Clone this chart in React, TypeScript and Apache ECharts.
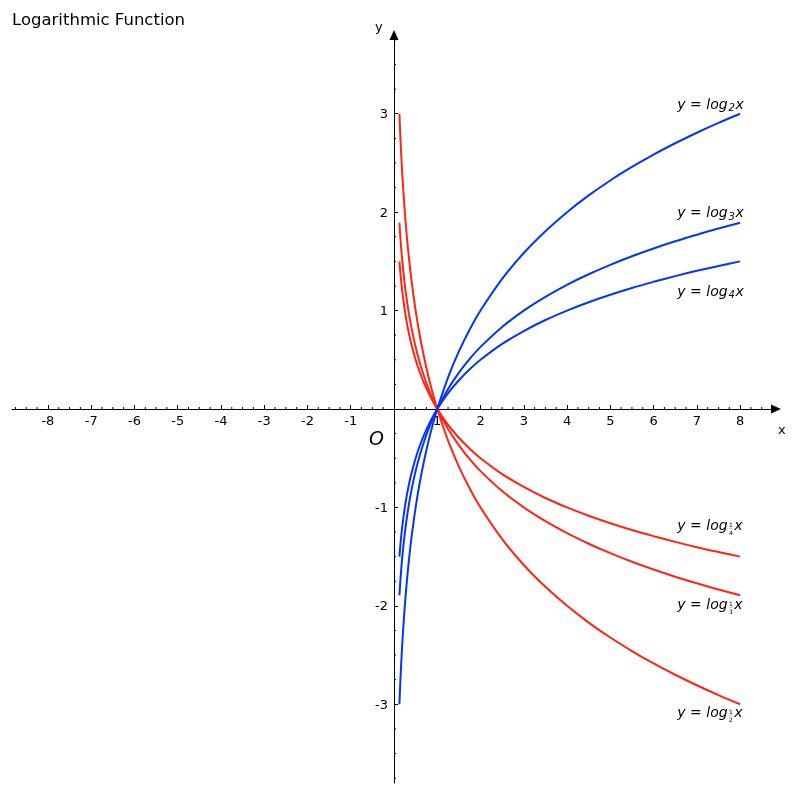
import React, { useEffect, useRef } from "react";
import * as echarts from "echarts";

// sample x positions of the curves
const xs = [0.125, 0.15, 0.175, 0.2, 0.25, 0.3, 0.35, 0.4, 0.5, 0.6, 0.7, 0.8, 0.9, 1, 1.25, 1.5, 1.75, 2, 2.5, 3, 3.5, 4, 4.5, 5, 5.5, 6, 6.5, 7, 7.5, 8];

const log2 = [-3, -2.737, -2.515, -2.322, -2, -1.737, -1.515, -1.322, -1, -0.737, -0.515, -0.322, -0.152, 0, 0.322, 0.585, 0.807, 1, 1.322, 1.585, 1.807, 2, 2.17, 2.322, 2.459, 2.585, 2.7, 2.807, 2.907, 3];
const log3 = [-1.893, -1.727, -1.587, -1.465, -1.262, -1.096, -0.956, -0.834, -0.631, -0.465, -0.325, -0.203, -0.096, 0, 0.203, 0.369, 0.509, 0.631, 0.834, 1, 1.14, 1.262, 1.369, 1.465, 1.552, 1.631, 1.704, 1.771, 1.834, 1.893];
const log4 = [-1.5, -1.369, -1.257, -1.161, -1, -0.868, -0.757, -0.661, -0.5, -0.368, -0.257, -0.161, -0.076, 0, 0.161, 0.292, 0.404, 0.5, 0.661, 0.792, 0.904, 1, 1.085, 1.161, 1.23, 1.292, 1.35, 1.404, 1.453, 1.5];
const logHalf = [3, 2.737, 2.515, 2.322, 2, 1.737, 1.515, 1.322, 1, 0.737, 0.515, 0.322, 0.152, 0, -0.322, -0.585, -0.807, -1, -1.322, -1.585, -1.807, -2, -2.17, -2.322, -2.459, -2.585, -2.7, -2.807, -2.907, -3];
const logThird = [1.893, 1.727, 1.587, 1.465, 1.262, 1.096, 0.956, 0.834, 0.631, 0.465, 0.325, 0.203, 0.096, 0, -0.203, -0.369, -0.509, -0.631, -0.834, -1, -1.14, -1.262, -1.369, -1.465, -1.552, -1.631, -1.704, -1.771, -1.834, -1.893];
const logQuarter = [1.5, 1.369, 1.257, 1.161, 1, 0.868, 0.757, 0.661, 0.5, 0.368, 0.257, 0.161, 0.076, 0, -0.161, -0.292, -0.404, -0.5, -0.661, -0.792, -0.904, -1, -1.085, -1.161, -1.23, -1.292, -1.35, -1.404, -1.453, -1.5];

const blueCurves = [log2, log3, log4];
const redCurves = [logHalf, logThird, logQuarter];

// curve labels: anchor (data coords) and base
const labelX = [6.55, 6.55, 6.55, 6.55, 6.55, 6.55];
const labelY = [3.1, 2.0, 1.2, -1.18, -1.98, -3.08];
const labelBase: (string | [string, string])[] = ["2", "3", "4", ["1", "4"], ["1", "3"], ["1", "2"]];

// axis ticks
const xTickLabels = [-8, -7, -6, -5, -4, -3, -2, -1, 1, 2, 3, 4, 5, 6, 7, 8];
const yTickLabels = [-3, -2, -1, 1, 2, 3];
const xRange = [-8.83, 8.83];
const yRange = [-3.8, 3.8];

const BLUE = "#0536f2";
const RED = "#ff2414";
const FONT = "DejaVu Sans";

let measureCtx: CanvasRenderingContext2D | null = null;
function textWidth(t: string, size: number, italic: boolean) {
  if (!measureCtx) measureCtx = document.createElement("canvas").getContext("2d");
  if (!measureCtx) return t.length * size * 0.55;
  measureCtx.font = `${italic ? "italic " : ""}${size}px '${FONT}'`;
  return measureCtx.measureText(t).width;
}

export default function App() {
  const ref = useRef<HTMLDivElement>(null);
  useEffect(() => {
    if (!ref.current) return;
    const chart = echarts.init(ref.current, undefined, { renderer: "svg" });

    const minorX: number[][] = [];
    for (let i = -35; i <= 35; i++) if (i % 4 !== 0) minorX.push([i / 4, 0]);
    const minorY: number[][] = [];
    for (let i = -15; i <= 15; i++) if (i % 4 !== 0) minorY.push([0, i / 4]);

    const curveSeries = [
      ...redCurves.map((c, k) => ({
        type: "line",
        name: "red" + k,
        data: xs.map((x, i) => [x, c[i]]),
        showSymbol: false,
        smooth: 0.3,
        lineStyle: { color: RED, width: 2 },
        itemStyle: { color: RED },
        z: 3,
      })),
      ...blueCurves.map((c, k) => ({
        type: "line",
        name: "blue" + k,
        data: xs.map((x, i) => [x, c[i]]),
        showSymbol: false,
        smooth: 0.3,
        lineStyle: { color: BLUE, width: 2 },
        itemStyle: { color: BLUE },
        z: 3,
      })),
    ];

    const tickLabelData = [
      ...xTickLabels.map((v) => [v, 0, 0]),
      ...yTickLabels.map((v) => [0, v, 1]),
    ];

    const option: any = {
      animation: false,
      title: {
        text: "Logarithmic Function",
        left: 12,
        top: 11,
        padding: 0,
        textStyle: { fontFamily: FONT, fontSize: 16.5, fontWeight: "normal", color: "#000" },
      },
      grid: { left: 12, right: 20, top: 35, bottom: 13, containLabel: false, outerBoundsMode: "none" },
      xAxis: {
        type: "value",
        min: xRange[0],
        max: xRange[1],
        axisLine: {
          onZero: true,
          symbol: ["none", "triangle"],
          symbolSize: [9, 10],
          lineStyle: { color: "#000", width: 1 },
        },
        axisTick: { show: true, inside: true, length: 4, customValues: xTickLabels, lineStyle: { color: "#000" } },
        axisLabel: { show: false },
        splitLine: { show: false },
      },
      yAxis: {
        type: "value",
        min: yRange[0],
        max: yRange[1],
        axisLine: {
          onZero: true,
          symbol: ["none", "triangle"],
          symbolSize: [9, 10],
          lineStyle: { color: "#000", width: 1 },
        },
        axisTick: { show: true, inside: true, length: 4, customValues: yTickLabels, lineStyle: { color: "#000" } },
        axisLabel: { show: false },
        splitLine: { show: false },
      },
      series: [
        {
          type: "custom",
          name: "minorTicks",
          silent: true,
          clip: false,
          data: [...minorX.map((d) => [d[0], d[1], 0]), ...minorY.map((d) => [d[0], d[1], 1])],
          renderItem: (params: any, api: any) => {
            const kind = api.value(2);
            const p = api.coord([api.value(0), api.value(1)]);
            const shape =
              kind === 0
                ? { x1: p[0], y1: p[1], x2: p[0], y2: p[1] - 2 }
                : { x1: p[0], y1: p[1], x2: p[0] + 2, y2: p[1] };
            return { type: "line", shape, style: { stroke: "#000", lineWidth: 1 } };
          },
          z: 2,
        },
        {
          type: "custom",
          name: "tickLabels",
          silent: true,
          clip: false,
          data: tickLabelData,
          renderItem: (params: any, api: any) => {
            const kind = api.value(2);
            const vx = api.value(0);
            const vy = api.value(1);
            const p = api.coord([vx, vy]);
            if (kind === 0) {
              return {
                type: "text",
                x: p[0],
                y: p[1] + 5,
                style: { text: String(vx), fontSize: 13, fontFamily: FONT, fill: "#000", align: "center", verticalAlign: "top" },
              };
            }
            return {
              type: "text",
              x: p[0] - 6,
              y: p[1],
              style: { text: String(vy), fontSize: 13, fontFamily: FONT, fill: "#000", align: "right", verticalAlign: "middle" },
            };
          },
          z: 2,
        },
        ...curveSeries,
        {
          type: "custom",
          name: "curveLabels",
          silent: true,
          clip: false,
          data: labelX.map((x, i) => [x, labelY[i]]),
          renderItem: (params: any, api: any) => {
            const i = params.dataIndex;
            const p = api.coord([api.value(0), api.value(1)]);
            const main = "y = log";
            const w1 = textWidth(main, 14, true);
            const children: any[] = [
              {
                type: "text",
                x: p[0],
                y: p[1],
                style: { text: main, fontSize: 14, fontStyle: "italic", fontFamily: FONT, fill: "#000", align: "left", verticalAlign: "middle" },
              },
            ];
            const base = labelBase[i];
            let xCur = p[0] + w1 + 0.8;
            if (typeof base === "string") {
              children.push({
                type: "text",
                x: xCur,
                y: p[1] + 4,
                style: { text: base, fontSize: 10, lineHeight: 8, fontStyle: "italic", fontFamily: FONT, fill: "#000", align: "left", verticalAlign: "middle" },
              });
              xCur += textWidth(base, 10, true) + 0.8;
            } else {
              const fw = 5;
              children.push({
                type: "text",
                x: xCur + fw / 2,
                y: p[1] - 0.5,
                style: { text: base[0], fontSize: 6, lineHeight: 5, fontFamily: FONT, fill: "#000", align: "center", verticalAlign: "middle" },
              });
              children.push({
                type: "line",
                shape: { x1: xCur + 0.5, y1: p[1] + 3.5, x2: xCur + fw - 0.5, y2: p[1] + 3.5 },
                style: { stroke: "#888", lineWidth: 0.5 },
              });
              children.push({
                type: "text",
                x: xCur + fw / 2,
                y: p[1] + 7.5,
                style: { text: base[1], fontSize: 6, lineHeight: 5, fontFamily: FONT, fill: "#000", align: "center", verticalAlign: "middle" },
              });
              xCur += fw + 0.8;
            }
            children.push({
              type: "text",
              x: xCur,
              y: p[1],
              style: { text: "x", fontSize: 14, fontStyle: "italic", fontFamily: FONT, fill: "#000", align: "left", verticalAlign: "middle" },
            });
            return { type: "group", children };
          },
          z: 4,
        },
      ],
      graphic: [
        { type: "text", left: 778, top: 423, style: { text: "x", fontSize: 13, fontFamily: FONT, fill: "#000" } },
        { type: "text", left: 375, top: 20, style: { text: "y", fontSize: 13, fontFamily: FONT, fill: "#000" } },
        { type: "text", left: 369, top: 428, style: { text: "O", fontSize: 19, fontStyle: "italic", fontFamily: FONT, fill: "#000" } },
      ],
    };

    chart.setOption(option);
    return () => chart.dispose();
  }, []);

  return <div ref={ref} style={{ position: "fixed", left: 0, top: 0, width: 796, height: 796 }} />;
}
